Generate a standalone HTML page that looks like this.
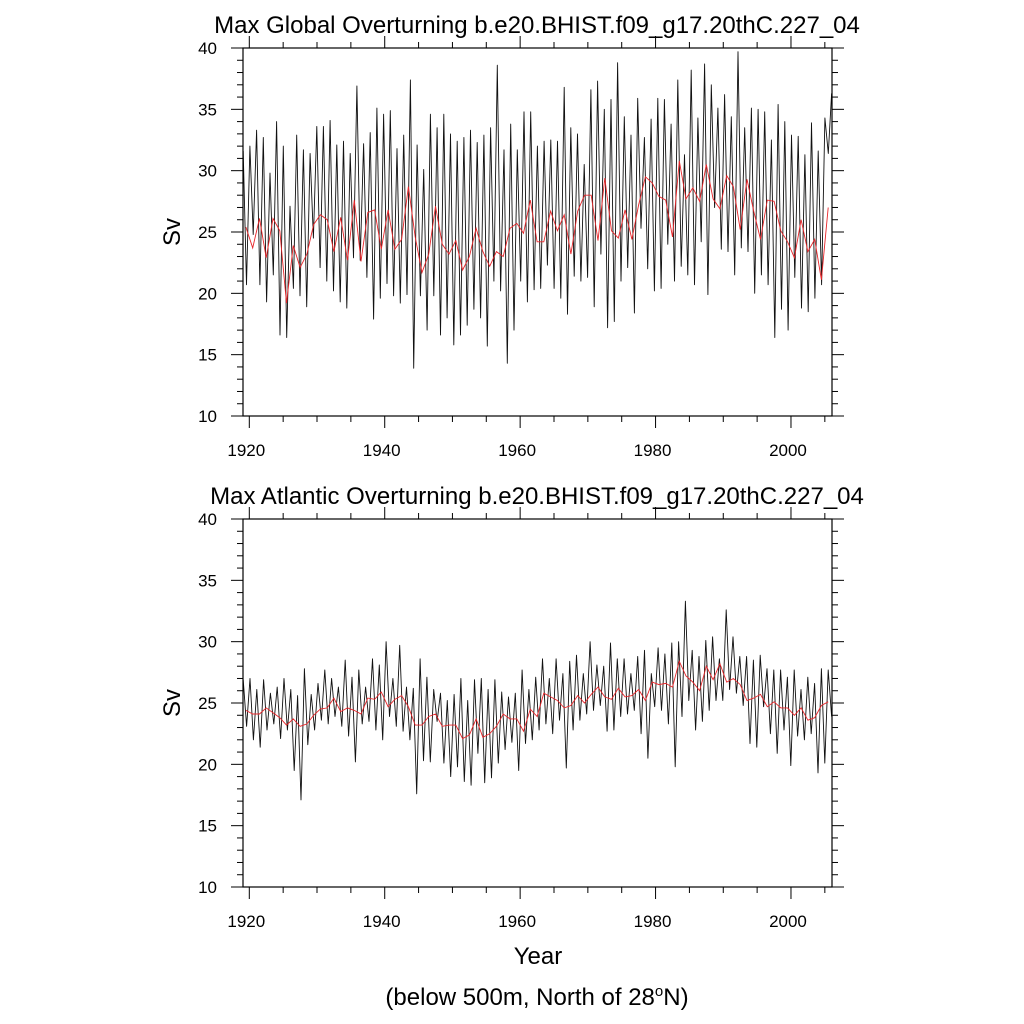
<!DOCTYPE html>
<html><head><meta charset="utf-8"><style>
html,body{margin:0;padding:0;background:#fff;}
svg{display:block;font-family:"Liberation Sans",Arial,sans-serif;}
</style></head><body>
<svg id="chart" width="1024" height="1024" viewBox="0 0 1024 1024" xmlns="http://www.w3.org/2000/svg">
<rect width="1024" height="1024" fill="#fff"/>
<g id="root"></g>
</svg>
<script>
const years = [];
for (let y = 1919; y <= 2005; y++) years.push(y);
const xTicks = [1920, 1940, 1960, 1980, 2000];
const yTicks = [10, 15, 20, 25, 30, 35, 40];

// Top panel: annual means (red), monthly peaks and troughs (black)
const globalMean = [25.4,23.7,26.1,22.9,26.1,25.1,19.2,23.9,22.1,23.2,25.6,26.4,26.0,23.4,26.2,22.7,27.6,22.6,26.6,26.8,23.6,26.8,23.6,24.4,28.7,24.6,21.7,23.2,27.1,
24.0,23.2,24.3,21.9,23.0,25.3,23.4,22.2,23.4,23.0,25.3,25.7,24.9,27.6,24.2,24.2,26.7,25.1,26.4,23.2,26.7,28.0,28.0,24.3,29.4,25.1,24.5,26.8,24.4,
27.2,29.5,29.0,27.9,27.6,24.6,30.8,27.7,28.6,27.5,30.5,27.7,26.9,29.6,28.7,25.2,29.3,26.7,24.4,27.6,27.5,25.1,24.2,22.9,26.0,23.4,24.4,21.1,27.0];
const globalPeaks = [31.6,32.0,33.3,32.7,29.8,34.0,32.0,27.1,32.9,31.7,31.4,33.6,33.6,34.1,32.1,32.4,31.4,36.9,32.2,33.1,35.1,34.6,34.9,31.8,32.9,37.4,32.1,30.1,34.6,33.5,
34.6,33.0,32.4,32.7,33.3,32.3,32.9,33.5,38.6,31.7,33.8,31.7,34.8,34.8,32.0,32.4,32.5,32.4,36.8,33.5,33.0,30.5,36.6,37.3,35.0,35.8,38.8,34.4,32.9,35.9,
32.7,34.2,35.9,35.8,33.8,37.4,31.3,38.2,34.3,38.7,37.0,35.1,36.2,34.4,39.7,33.5,35.1,35.0,34.8,32.5,35.4,34.0,32.9,32.8,31.3,33.9,31.6,34.3,31.4,36.3];
const globalTroughs = [20.7,24.8,20.7,19.3,21.5,16.6,16.4,20.4,19.8,18.9,24.5,22.1,21.0,20.2,19.3,18.8,22.9,22.7,21.3,17.9,19.6,20.8,19.8,19.2,19.9,13.9,19.8,17.0,
19.8,16.6,18.0,15.8,16.6,17.4,18.7,18.0,15.7,21.0,20.2,14.3,17.0,21.0,19.3,20.3,20.4,22.3,20.4,19.6,18.3,21.4,21.0,21.3,18.9,23.2,17.2,17.7,21.0,22.1,
18.4,25.3,22.0,20.2,20.4,24.0,21.0,22.2,21.5,20.7,24.2,19.9,27.0,23.6,23.4,21.5,23.7,23.4,20.0,21.5,20.7,16.4,18.7,17.0,21.3,18.8,18.5,19.6,20.7];

// Bottom panel
const atlMean = [24.4,24.1,24.1,24.6,24.2,23.8,23.2,23.7,23.1,23.3,24.0,24.5,24.6,25.4,24.3,24.6,24.4,24.1,25.4,25.3,25.9,24.7,25.3,25.6,24.7,23.2,23.2,23.9,24.1,
23.1,23.2,23.2,22.1,22.4,23.7,22.2,22.5,23.1,24.1,23.7,23.7,22.7,24.5,23.9,25.8,25.5,25.2,24.6,24.8,25.6,25.0,25.7,26.3,25.5,25.3,26.2,25.5,25.6,
26.1,25.2,26.7,26.5,26.6,26.3,28.4,27.2,26.7,26.0,28.0,26.9,28.2,26.7,27.0,26.5,25.2,25.4,25.7,24.7,25.1,24.6,24.6,24.0,24.6,23.6,23.8,24.8,25.1];
const atlPeaks = [26.9,27.0,26.1,26.9,25.8,26.3,27.0,26.1,25.6,27.8,25.7,26.6,27.7,27.0,26.3,28.5,27.1,27.7,26.3,28.6,28.1,30.0,27.0,29.7,26.3,26.2,28.6,27.1,26.1,
25.8,25.2,25.7,27.0,25.2,26.9,27.0,26.1,26.9,25.9,25.5,25.8,27.7,26.1,27.1,28.6,27.0,28.6,27.4,28.4,28.9,27.4,30.0,28.1,28.0,29.9,28.6,28.6,27.4,
28.8,29.3,27.4,29.5,29.0,29.9,30.0,33.3,29.3,28.8,30.1,30.4,28.6,32.6,30.4,28.8,28.8,28.5,28.9,27.8,27.7,27.7,27.1,27.7,26.1,27.1,26.6,27.8,27.7];
const atlTroughs = [23.1,22.0,21.4,22.8,23.3,22.1,22.8,19.5,17.1,21.6,22.8,23.6,23.3,23.9,23.1,22.3,20.2,23.3,23.5,22.8,22.0,23.9,23.1,22.7,22.0,17.6,20.3,20.2,23.5,
20.1,19.0,19.8,18.6,18.3,20.9,18.5,18.9,20.1,21.2,21.8,19.5,21.7,22.0,22.8,23.3,22.5,23.6,19.7,22.8,23.6,24.1,24.4,24.8,22.7,22.8,23.9,24.1,24.4,
22.5,20.5,24.7,24.4,23.3,19.8,23.9,25.2,22.8,23.5,24.4,25.2,25.2,26.1,25.8,24.8,21.7,21.4,24.7,22.5,20.9,22.8,19.9,22.3,22.0,22.5,19.3,20.1,23.9];

const NS = "http://www.w3.org/2000/svg";
const root = document.getElementById('root');
const X0 = 243, X1 = 832;
function xs(yr){ return 249.3 + (yr - 1920) * 6.771; }
function mk(tag, attrs, parent){ const e = document.createElementNS(NS, tag); for (const k in attrs) e.setAttribute(k, attrs[k]); (parent||root).appendChild(e); return e; }

function panel(name, top, title, mean, peaks, troughs){
  const bot = top + 368;
  const ys = v => bot - (v - 10) * (368 / 30);
  const g = mk('g', {});
  
  
  const t = mk('text', {x: 537, y: top - 15, 'text-anchor': 'middle', 'font-size': 24, fill: '#000'}, g);
  t.textContent = title;
  
  
  const n = Math.max(peaks.length, troughs.length);
  const seq = [];
  for (let i = 0; i < n; i++){ if (i < peaks.length) seq.push(peaks[i]); if (i < troughs.length) seq.push(troughs[i]); }
  const xa = 1919.1, xb = 2006.0;
  let d = '';
  seq.forEach((v, i) => { const yr = xa + (xb - xa) * i / (seq.length - 1); d += (i ? 'L' : 'M') + xs(yr).toFixed(1) + ',' + ys(v).toFixed(1); });
  const bl = mk('path', {d: d, fill: 'none', stroke: '#111', 'stroke-width': 0.9, 'stroke-linejoin': 'round'}, g);
  
  
  let dr = '';
  mean.forEach((v, i) => { dr += (i ? 'L' : 'M') + xs(years[i] + 0.5).toFixed(1) + ',' + ys(v).toFixed(1); });
  const rl = mk('path', {d: dr, fill: 'none', stroke: '#e8262a', 'stroke-width': 0.9}, g);
  
  
  const fr = mk('rect', {x: X0, y: top, width: X1 - X0, height: 368, fill: 'none', stroke: '#000', 'stroke-width': 1.2}, g);
  
  
  for (let v = 10; v <= 40; v++){
    const major = v % 5 === 0, L = major ? 12 : 6, y = ys(v);
    mk('line', {x1: X0 - L, x2: X0, y1: y, y2: y, stroke: '#000', 'stroke-width': 1}, g);
    mk('line', {x1: X1, x2: X1 + L, y1: y, y2: y, stroke: '#000', 'stroke-width': 1}, g);
  }
  yTicks.forEach(v => {
    const tl = mk('text', {x: 217, y: ys(v) + 6, 'text-anchor': 'end', 'font-size': 17}, g);
    tl.textContent = v;
    
    
  });
  for (let yr = 1920; yr <= 2005; yr += 5){
    const major = yr % 20 === 0, L = major ? 12 : 6, x = xs(yr);
    mk('line', {x1: x, x2: x, y1: bot, y2: bot + L, stroke: '#000', 'stroke-width': 1}, g);
    mk('line', {x1: x, x2: x, y1: top - L, y2: top, stroke: '#000', 'stroke-width': 1}, g);
  }
  xTicks.forEach(yr => {
    const tl = mk('text', {x: xs(yr) - 3, y: bot + 40, 'text-anchor': 'middle', 'font-size': 17}, g);
    tl.textContent = yr;
    
    
  });
  const yl = mk('text', {x: 0, y: 0, 'text-anchor': 'middle', 'font-size': 24, transform: 'translate(180,' + (top + 184) + ') rotate(-90)'}, g);
  yl.textContent = 'Sv';
  
  
}

panel('global-overturning-panel', 48, 'Max Global Overturning b.e20.BHIST.f09_g17.20thC.227_04', globalMean, globalPeaks, globalTroughs);
panel('atlantic-overturning-panel', 519, 'Max Atlantic Overturning b.e20.BHIST.f09_g17.20thC.227_04', atlMean, atlPeaks, atlTroughs);

const xt = mk('text', {x: 538, y: 964, 'text-anchor': 'middle', 'font-size': 24});
xt.textContent = 'Year';


const cap = mk('text', {x: 537, y: 1005, 'text-anchor': 'middle', 'font-size': 24});
cap.innerHTML = '(below 500m, North of 28<tspan dy="-9" font-size="15">o</tspan><tspan dy="9">N)</tspan>';


</script>
</body></html>
